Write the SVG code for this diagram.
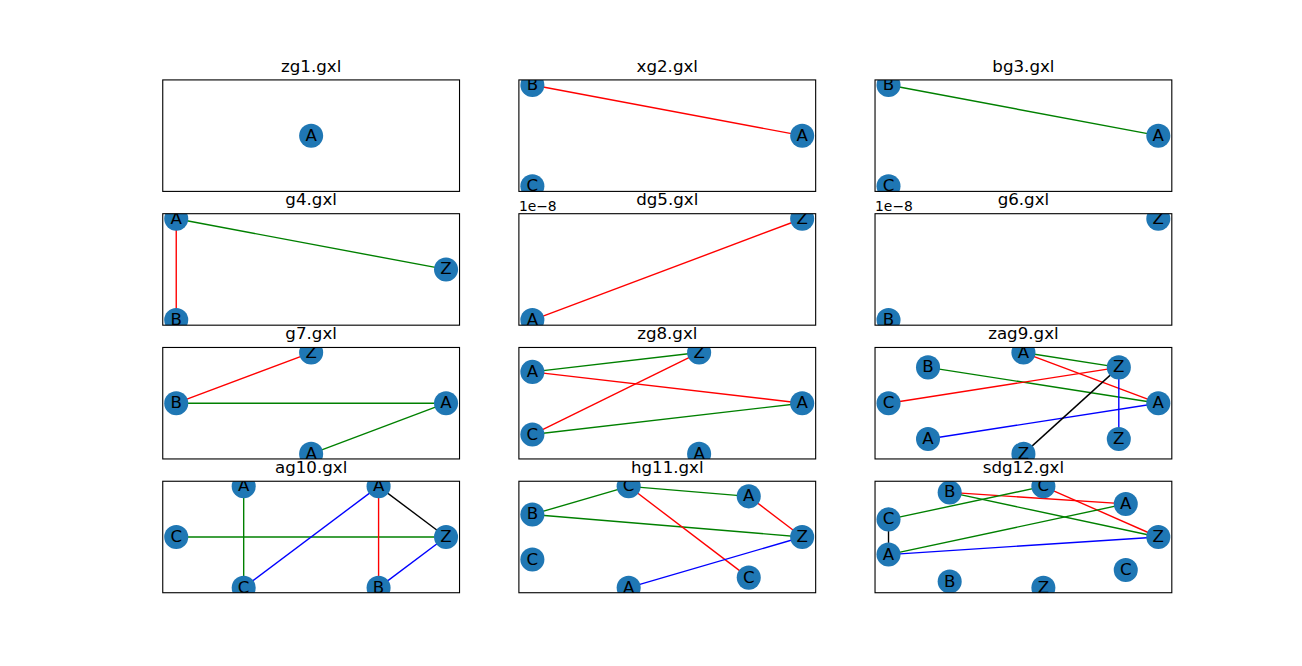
<svg xmlns="http://www.w3.org/2000/svg" width="1302" height="666" viewBox="0 0 1302 666">
<style>
.bg{fill:#ffffff}
.frame{fill:none;stroke:#000000;stroke-width:1.11}
.title{font-family:"DejaVu Sans","Liberation Sans",sans-serif;font-size:16.67px;fill:#000000;text-anchor:middle}
.off{font-family:"DejaVu Sans","Liberation Sans",sans-serif;font-size:13.89px;fill:#000000}
.nd circle{fill:#1f77b4}
.nd text{font-family:"DejaVu Sans","Liberation Sans",sans-serif;font-size:16.67px;fill:#000000;text-anchor:middle}
.e line{stroke-width:1.39;fill:none}
.r{stroke:#ff0000}
.g{stroke:#008000}
.b{stroke:#0000ff}
.k{stroke:#000000}
</style>
<defs>
<clipPath id="c11"><rect x="162.75" y="79.92" width="296.78" height="111.48"/></clipPath>
<clipPath id="c12"><rect x="518.89" y="79.92" width="296.78" height="111.48"/></clipPath>
<clipPath id="c13"><rect x="875.03" y="79.92" width="296.78" height="111.48"/></clipPath>
<clipPath id="c21"><rect x="162.75" y="213.70" width="296.78" height="111.48"/></clipPath>
<clipPath id="c22"><rect x="518.89" y="213.70" width="296.78" height="111.48"/></clipPath>
<clipPath id="c23"><rect x="875.03" y="213.70" width="296.78" height="111.48"/></clipPath>
<clipPath id="c31"><rect x="162.75" y="347.47" width="296.78" height="111.48"/></clipPath>
<clipPath id="c32"><rect x="518.89" y="347.47" width="296.78" height="111.48"/></clipPath>
<clipPath id="c33"><rect x="875.03" y="347.47" width="296.78" height="111.48"/></clipPath>
<clipPath id="c41"><rect x="162.75" y="481.25" width="296.78" height="111.48"/></clipPath>
<clipPath id="c42"><rect x="518.89" y="481.25" width="296.78" height="111.48"/></clipPath>
<clipPath id="c43"><rect x="875.03" y="481.25" width="296.78" height="111.48"/></clipPath>
</defs>
<rect x="0" y="0" width="1302" height="666" class="bg"/>

<!-- zg1 -->
<g id="zg1">
<text class="title" x="311.14" y="71.59">zg1.gxl</text>
<g clip-path="url(#c11)">
<g id="zg1-edges" class="e"></g>
<g id="zg1-A" class="nd"><circle cx="311.14" cy="135.66" r="12.03"/><text x="311.14" y="140.66">A</text></g>
</g>
<rect class="frame" x="162.75" y="79.92" width="296.78" height="111.48"/>
</g>

<!-- xg2 -->
<g id="xg2">
<text class="title" x="667.28" y="71.59">xg2.gxl</text>
<g clip-path="url(#c12)">
<g id="xg2-edges" class="e"><line class="r" x1="532.38" y1="84.99" x2="802.18" y2="135.66"/></g>
<g id="xg2-A" class="nd"><circle cx="802.18" cy="135.66" r="12.03"/><text x="802.18" y="140.66">A</text></g>
<g id="xg2-B" class="nd"><circle cx="532.38" cy="84.99" r="12.03"/><text x="532.38" y="89.99">B</text></g>
<g id="xg2-C" class="nd"><circle cx="532.38" cy="186.33" r="12.03"/><text x="532.38" y="191.33">C</text></g>
</g>
<rect class="frame" x="518.89" y="79.92" width="296.78" height="111.48"/>
</g>

<!-- bg3 -->
<g id="bg3">
<text class="title" x="1023.42" y="71.59">bg3.gxl</text>
<g clip-path="url(#c13)">
<g id="bg3-edges" class="e"><line class="g" x1="888.52" y1="84.99" x2="1158.32" y2="135.66"/></g>
<g id="bg3-A" class="nd"><circle cx="1158.32" cy="135.66" r="12.03"/><text x="1158.32" y="140.66">A</text></g>
<g id="bg3-B" class="nd"><circle cx="888.52" cy="84.99" r="12.03"/><text x="888.52" y="89.99">B</text></g>
<g id="bg3-C" class="nd"><circle cx="888.52" cy="186.33" r="12.03"/><text x="888.52" y="191.33">C</text></g>
</g>
<rect class="frame" x="875.03" y="79.92" width="296.78" height="111.48"/>
</g>

<!-- g4 -->
<g id="g4">
<text class="title" x="311.14" y="205.37">g4.gxl</text>
<g clip-path="url(#c21)">
<g id="g4-edges" class="e">
<line class="r" x1="176.24" y1="218.77" x2="176.24" y2="320.11"/>
<line class="g" x1="176.24" y1="218.77" x2="446.04" y2="269.44"/>
</g>
<g id="g4-Z" class="nd"><circle cx="446.04" cy="269.44" r="12.03"/><text x="446.04" y="274.44">Z</text></g>
<g id="g4-A" class="nd"><circle cx="176.24" cy="218.77" r="12.03"/><text x="176.24" y="223.77">A</text></g>
<g id="g4-B" class="nd"><circle cx="176.24" cy="320.11" r="12.03"/><text x="176.24" y="325.11">B</text></g>
</g>
<rect class="frame" x="162.75" y="213.70" width="296.78" height="111.48"/>
</g>

<!-- dg5 -->
<g id="dg5">
<text class="title" x="667.28" y="205.37">dg5.gxl</text>
<text class="off" x="518.89" y="210.5">1e−8</text>
<g clip-path="url(#c22)">
<g id="dg5-edges" class="e"><line class="r" x1="532.38" y1="320.11" x2="802.18" y2="218.77"/></g>
<g id="dg5-A" class="nd"><circle cx="532.38" cy="320.11" r="12.03"/><text x="532.38" y="325.11">A</text></g>
<g id="dg5-Z" class="nd"><circle cx="802.18" cy="218.77" r="12.03"/><text x="802.18" y="223.77">Z</text></g>
</g>
<rect class="frame" x="518.89" y="213.70" width="296.78" height="111.48"/>
</g>

<!-- g6 -->
<g id="g6">
<text class="title" x="1023.42" y="205.37">g6.gxl</text>
<text class="off" x="875.03" y="210.5">1e−8</text>
<g clip-path="url(#c23)">
<g id="g6-edges" class="e"></g>
<g id="g6-Z" class="nd"><circle cx="1158.32" cy="218.77" r="12.03"/><text x="1158.32" y="223.77">Z</text></g>
<g id="g6-B" class="nd"><circle cx="888.52" cy="320.11" r="12.03"/><text x="888.52" y="325.11">B</text></g>
</g>
<rect class="frame" x="875.03" y="213.70" width="296.78" height="111.48"/>
</g>

<!-- g7 -->
<g id="g7">
<text class="title" x="311.14" y="339.14">g7.gxl</text>
<g clip-path="url(#c31)">
<g id="g7-edges" class="e">
<line class="r" x1="176.24" y1="403.21" x2="311.14" y2="352.54"/>
<line class="g" x1="176.24" y1="403.21" x2="446.04" y2="403.21"/>
<line class="g" x1="311.14" y1="453.88" x2="446.04" y2="403.21"/>
</g>
<g id="g7-A1" class="nd"><circle cx="446.04" cy="403.21" r="12.03"/><text x="446.04" y="408.21">A</text></g>
<g id="g7-Z" class="nd"><circle cx="311.14" cy="352.54" r="12.03"/><text x="311.14" y="357.54">Z</text></g>
<g id="g7-B" class="nd"><circle cx="176.24" cy="403.21" r="12.03"/><text x="176.24" y="408.21">B</text></g>
<g id="g7-A2" class="nd"><circle cx="311.14" cy="453.88" r="12.03"/><text x="311.14" y="458.88">A</text></g>
</g>
<rect class="frame" x="162.75" y="347.47" width="296.78" height="111.48"/>
</g>

<!-- zg8 -->
<g id="zg8">
<text class="title" x="667.28" y="339.14">zg8.gxl</text>
<g clip-path="url(#c32)">
<g id="zg8-edges" class="e">
<line class="g" x1="532.38" y1="371.89" x2="699.12" y2="352.54"/>
<line class="r" x1="532.38" y1="371.89" x2="802.18" y2="403.21"/>
<line class="r" x1="532.38" y1="434.53" x2="699.12" y2="352.54"/>
<line class="g" x1="532.38" y1="434.53" x2="802.18" y2="403.21"/>
</g>
<g id="zg8-A1" class="nd"><circle cx="802.18" cy="403.21" r="12.03"/><text x="802.18" y="408.21">A</text></g>
<g id="zg8-Z" class="nd"><circle cx="699.12" cy="352.54" r="12.03"/><text x="699.12" y="357.54">Z</text></g>
<g id="zg8-A2" class="nd"><circle cx="532.38" cy="371.89" r="12.03"/><text x="532.38" y="376.89">A</text></g>
<g id="zg8-C" class="nd"><circle cx="532.38" cy="434.53" r="12.03"/><text x="532.38" y="439.53">C</text></g>
<g id="zg8-A3" class="nd"><circle cx="699.12" cy="453.88" r="12.03"/><text x="699.12" y="458.88">A</text></g>
</g>
<rect class="frame" x="518.89" y="347.47" width="296.78" height="111.48"/>
</g>

<!-- zag9 -->
<g id="zag9">
<text class="title" x="1023.42" y="339.14">zag9.gxl</text>
<g clip-path="url(#c33)">
<g id="zag9-edges" class="e">
<line class="g" x1="1023.42" y1="352.54" x2="1118.81" y2="367.38"/>
<line class="r" x1="1023.42" y1="352.54" x2="1158.32" y2="403.21"/>
<line class="g" x1="928.03" y1="367.38" x2="1158.32" y2="403.21"/>
<line class="r" x1="888.52" y1="403.21" x2="1118.81" y2="367.38"/>
<line class="b" x1="1118.81" y1="367.38" x2="1118.81" y2="439.04"/>
<line class="b" x1="928.03" y1="439.04" x2="1158.32" y2="403.21"/>
<line class="k" x1="1118.81" y1="367.38" x2="1023.42" y2="453.88"/>
</g>
<g id="zag9-A1" class="nd"><circle cx="1158.32" cy="403.21" r="12.03"/><text x="1158.32" y="408.21">A</text></g>
<g id="zag9-Z1" class="nd"><circle cx="1118.81" cy="367.38" r="12.03"/><text x="1118.81" y="372.38">Z</text></g>
<g id="zag9-A2" class="nd"><circle cx="1023.42" cy="352.54" r="12.03"/><text x="1023.42" y="357.54">A</text></g>
<g id="zag9-B" class="nd"><circle cx="928.03" cy="367.38" r="12.03"/><text x="928.03" y="372.38">B</text></g>
<g id="zag9-C" class="nd"><circle cx="888.52" cy="403.21" r="12.03"/><text x="888.52" y="408.21">C</text></g>
<g id="zag9-A3" class="nd"><circle cx="928.03" cy="439.04" r="12.03"/><text x="928.03" y="444.04">A</text></g>
<g id="zag9-Z2" class="nd"><circle cx="1023.42" cy="453.88" r="12.03"/><text x="1023.42" y="458.88">Z</text></g>
<g id="zag9-Z3" class="nd"><circle cx="1118.81" cy="439.04" r="12.03"/><text x="1118.81" y="444.04">Z</text></g>
</g>
<rect class="frame" x="875.03" y="347.47" width="296.78" height="111.48"/>
</g>

<!-- ag10 -->
<g id="ag10">
<text class="title" x="311.14" y="472.92">ag10.gxl</text>
<g clip-path="url(#c41)">
<g id="ag10-edges" class="e">
<line class="g" x1="243.69" y1="486.32" x2="243.69" y2="587.66"/>
<line class="g" x1="176.24" y1="536.99" x2="446.04" y2="536.99"/>
<line class="b" x1="378.59" y1="486.32" x2="243.69" y2="587.66"/>
<line class="r" x1="378.59" y1="486.32" x2="378.59" y2="587.66"/>
<line class="k" x1="378.59" y1="486.32" x2="446.04" y2="536.99"/>
<line class="b" x1="378.59" y1="587.66" x2="446.04" y2="536.99"/>
</g>
<g id="ag10-Z" class="nd"><circle cx="446.04" cy="536.99" r="12.03"/><text x="446.04" y="541.99">Z</text></g>
<g id="ag10-A1" class="nd"><circle cx="378.59" cy="486.32" r="12.03"/><text x="378.59" y="491.32">A</text></g>
<g id="ag10-A2" class="nd"><circle cx="243.69" cy="486.32" r="12.03"/><text x="243.69" y="491.32">A</text></g>
<g id="ag10-C1" class="nd"><circle cx="176.24" cy="536.99" r="12.03"/><text x="176.24" y="541.99">C</text></g>
<g id="ag10-C2" class="nd"><circle cx="243.69" cy="587.66" r="12.03"/><text x="243.69" y="592.66">C</text></g>
<g id="ag10-B" class="nd"><circle cx="378.59" cy="587.66" r="12.03"/><text x="378.59" y="592.66">B</text></g>
</g>
<rect class="frame" x="162.75" y="481.25" width="296.78" height="111.48"/>
</g>

<!-- hg11 -->
<g id="hg11">
<text class="title" x="667.28" y="472.92">hg11.gxl</text>
<g clip-path="url(#c42)">
<g id="hg11-edges" class="e">
<line class="g" x1="532.38" y1="514.44" x2="628.67" y2="486.32"/>
<line class="g" x1="628.67" y1="486.32" x2="748.74" y2="496.36"/>
<line class="g" x1="532.38" y1="514.44" x2="802.18" y2="536.99"/>
<line class="r" x1="628.67" y1="486.32" x2="748.74" y2="577.62"/>
<line class="r" x1="748.74" y1="496.36" x2="802.18" y2="536.99"/>
<line class="b" x1="628.67" y1="587.66" x2="802.18" y2="536.99"/>
</g>
<g id="hg11-Z" class="nd"><circle cx="802.18" cy="536.99" r="12.03"/><text x="802.18" y="541.99">Z</text></g>
<g id="hg11-A1" class="nd"><circle cx="748.74" cy="496.36" r="12.03"/><text x="748.74" y="501.36">A</text></g>
<g id="hg11-C1" class="nd"><circle cx="628.67" cy="486.32" r="12.03"/><text x="628.67" y="491.32">C</text></g>
<g id="hg11-B" class="nd"><circle cx="532.38" cy="514.44" r="12.03"/><text x="532.38" y="519.44">B</text></g>
<g id="hg11-C2" class="nd"><circle cx="532.38" cy="559.54" r="12.03"/><text x="532.38" y="564.54">C</text></g>
<g id="hg11-A2" class="nd"><circle cx="628.67" cy="587.66" r="12.03"/><text x="628.67" y="592.66">A</text></g>
<g id="hg11-C3" class="nd"><circle cx="748.74" cy="577.62" r="12.03"/><text x="748.74" y="582.62">C</text></g>
</g>
<rect class="frame" x="518.89" y="481.25" width="296.78" height="111.48"/>
</g>

<!-- sdg12 -->
<g id="sdg12">
<text class="title" x="1023.42" y="472.92">sdg12.gxl</text>
<g clip-path="url(#c43)">
<g id="sdg12-edges" class="e">
<line class="r" x1="949.68" y1="492.43" x2="1125.76" y2="503.91"/>
<line class="g" x1="949.68" y1="492.43" x2="1158.32" y2="536.99"/>
<line class="g" x1="1043.38" y1="486.32" x2="888.52" y2="519.40"/>
<line class="r" x1="1043.38" y1="486.32" x2="1158.32" y2="536.99"/>
<line class="k" x1="888.52" y1="519.40" x2="888.52" y2="554.58"/>
<line class="g" x1="888.52" y1="554.58" x2="1125.76" y2="503.91"/>
<line class="b" x1="888.52" y1="554.58" x2="1158.32" y2="536.99"/>
</g>
<g id="sdg12-Z1" class="nd"><circle cx="1158.32" cy="536.99" r="12.03"/><text x="1158.32" y="541.99">Z</text></g>
<g id="sdg12-A1" class="nd"><circle cx="1125.76" cy="503.91" r="12.03"/><text x="1125.76" y="508.91">A</text></g>
<g id="sdg12-C1" class="nd"><circle cx="1043.38" cy="486.32" r="12.03"/><text x="1043.38" y="491.32">C</text></g>
<g id="sdg12-B1" class="nd"><circle cx="949.68" cy="492.43" r="12.03"/><text x="949.68" y="497.43">B</text></g>
<g id="sdg12-C2" class="nd"><circle cx="888.52" cy="519.40" r="12.03"/><text x="888.52" y="524.40">C</text></g>
<g id="sdg12-A2" class="nd"><circle cx="888.52" cy="554.58" r="12.03"/><text x="888.52" y="559.58">A</text></g>
<g id="sdg12-B2" class="nd"><circle cx="949.68" cy="581.55" r="12.03"/><text x="949.68" y="586.55">B</text></g>
<g id="sdg12-Z2" class="nd"><circle cx="1043.38" cy="587.66" r="12.03"/><text x="1043.38" y="592.66">Z</text></g>
<g id="sdg12-C3" class="nd"><circle cx="1125.76" cy="570.07" r="12.03"/><text x="1125.76" y="575.07">C</text></g>
</g>
<rect class="frame" x="875.03" y="481.25" width="296.78" height="111.48"/>
</g>
</svg>
